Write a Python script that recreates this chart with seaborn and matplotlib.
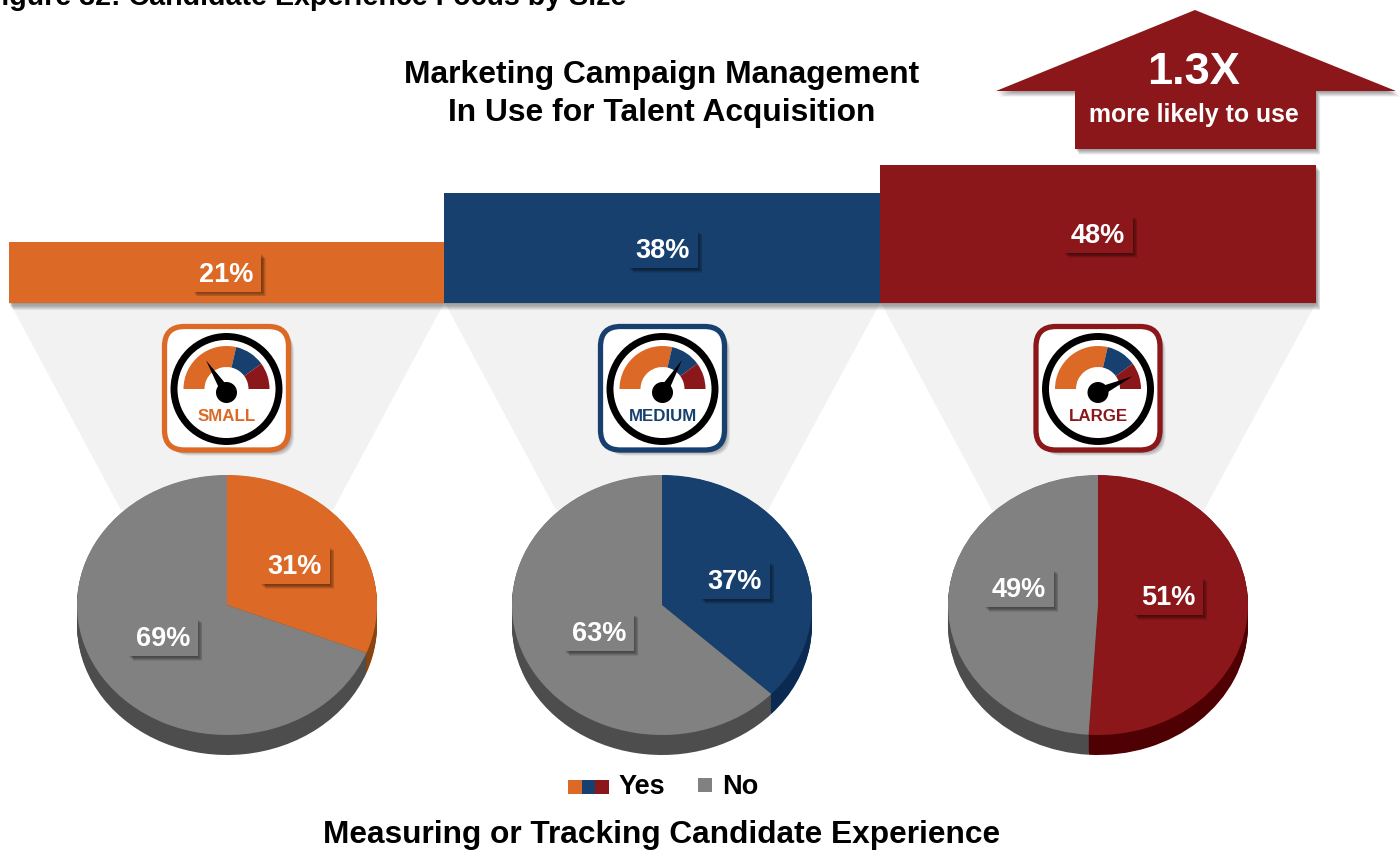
import matplotlib
matplotlib.use("Agg")
import matplotlib.patheffects as pe
import matplotlib.pyplot as plt
import numpy as np
import seaborn as sns
from matplotlib.patches import Circle, FancyBboxPatch, Polygon, Rectangle, Wedge

sizes = ["Small", "Medium", "Large"]
campaign_use = [21, 38, 48]
tracking_yes = [31, 37, 51]
tracking_no = [69, 63, 49]
badge_labels = ["SMALL", "MEDIUM", "LARGE"]
needle_angles = [122.5, 59, 25]

ORANGE = "#DC6A26"
NAVY = "#17406F"
RED = "#8B171A"
GRAY = "#818181"
colors = [ORANGE, NAVY, RED]
wall_colors = ["#8A4410", "#0B2A52", "#4E0002"]
WALL_GRAY = "#4D4D4D"
FONT = "Liberation Sans"

W, H = 1400, 850
BASE_Y = 303
PX_PER_PCT = 2.885
BAR_LEFT, BAR_RIGHT = 8.6, 1316
PIE_X = [227, 662, 1098]
GAUGE_X = [226.5, 662.5, 1098]
PIE_Y, PIE_RX, PIE_RY, PIE_DEPTH = 605, 150, 130, 20

sns.set_theme(style="white")
plt.rcParams["font.family"] = [FONT, "DejaVu Sans"]
plt.rcParams["font.weight"] = "bold"

fig = plt.figure(figsize=(W / 100, H / 100), dpi=100, facecolor="white")


def px_axes(left, top, right, bottom, zorder):
    return fig.add_axes([left / W, 1 - bottom / H, (right - left) / W, (bottom - top) / H], zorder=zorder)


def soft_shadow(dx=3, dy=-3, layers=6, strength=0.07):
    # stacked offsets to fake the blurred drop shadow
    effects = []
    for f in np.linspace(1, 0.2, layers):
        effects.append(pe.SimplePatchShadow(offset=(dx * f, dy * f), shadow_rgbFace="black", alpha=strength))
    return effects + [pe.Normal()]


def box_label(ax, x, y, s, color):
    box = Rectangle((x - 34.5, y - 19), 69, 38, fc=color, ec="none", zorder=9)
    box.set_path_effects(soft_shadow(3.5, -3.5, strength=0.09))
    ax.add_patch(box)
    ax.text(x, y + 2, s, ha="center", va="center", color="white", fontsize=19.5, fontweight="bold", zorder=10)


# background: funnels between bars and pies
bg = px_axes(0, 0, W, H, 0)
bg.set_xlim(0, W)
bg.set_ylim(H, 0)
bg.axis("off")
edges = [9, 444, 880, 1316]
for i, cx in enumerate(PIE_X):
    bg.add_patch(Polygon([(edges[i] + 1, BASE_Y), (edges[i + 1], BASE_Y), (cx + 106, 510), (cx - 106, 510)],
                         closed=True, fc="#F2F2F2", ec="none"))

# top bars
bar_ax = px_axes(BAR_LEFT, 0, BAR_RIGHT, BASE_Y, 1)
sns.barplot(x=sizes, y=campaign_use, hue=sizes, palette=colors, width=1, legend=False, saturation=1,
            linewidth=0, ax=bar_ax)
bar_ax.set_xlim(-0.5, 2.5)
bar_ax.set_ylim(0, BASE_Y / PX_PER_PCT)
bar_ax.axis("off")
for patch in bar_ax.patches:
    patch.set_clip_on(False)
    patch.set_path_effects(soft_shadow(3, -5, layers=6, strength=0.07))
bar_ax.patch.set_alpha(0)

# pies: a stack of darker pies gives the side wall
for i, cx in enumerate(PIE_X):
    ax = px_axes(cx - 165, 460, cx + 165, 770, 2)
    for d in np.linspace(PIE_DEPTH, 0.5, 16):
        ax.pie([tracking_yes[i], tracking_no[i]], colors=[wall_colors[i], WALL_GRAY], startangle=90,
               counterclock=False, center=(0, -d / PIE_RY), radius=1, wedgeprops=dict(linewidth=0))
    ax.pie([tracking_yes[i], tracking_no[i]], colors=[colors[i], GRAY], startangle=90,
           counterclock=False, radius=1, wedgeprops=dict(linewidth=0))
    ax.set_aspect("auto")
    ax.set_xlim(-165 / PIE_RX, 165 / PIE_RX)
    ax.set_ylim(-(770 - PIE_Y) / PIE_RY, (PIE_Y - 460) / PIE_RY)
    ax.patch.set_alpha(0)

# foreground
fg = px_axes(0, 0, W, H, 3)
fg.set_xlim(0, W)
fg.set_ylim(H, 0)
fg.axis("off")
fg.patch.set_alpha(0)

fg.text(-16.4, 5, "Figure 32: Candidate Experience Focus by Size", fontsize=20.65, fontweight="bold", color="black",
        ha="left", va="baseline")
fg.text(662, 75, "Marketing Campaign Management", fontsize=22.9, fontweight="bold", color="black", ha="center", va="center")
fg.text(662, 113, "In Use for Talent Acquisition", fontsize=22.9, fontweight="bold", color="black", ha="center", va="center")

arrow = Polygon([(1195, 10), (1396, 91), (1316, 91), (1316, 149), (1075, 149), (1075, 91), (996, 91)],
                closed=True, fc=RED, ec="none")
arrow.set_path_effects(soft_shadow(3, -4))
fg.add_patch(arrow)
fg.text(1194, 72, "1.3X", color="white", fontsize=32.5, fontweight="bold", ha="center", va="center")
fg.text(1194, 115, "more likely to use", color="white", fontsize=17.9, fontweight="bold", ha="center", va="center")

bar_label_pos = [(226.5, 272.5), (663, 249), (1098, 234)]
for (x, y), v, c in zip(bar_label_pos, campaign_use, colors):
    box_label(fg, x, y, f"{v}%", c)

yes_label_pos = [(295, 565), (735, 580), (1168, 596)]
no_label_pos = [(163, 637), (599, 632), (1019, 588)]
for i in range(3):
    box_label(fg, *yes_label_pos[i], f"{tracking_yes[i]}%", colors[i])
    box_label(fg, *no_label_pos[i], f"{tracking_no[i]}%", GRAY)

# gauge badges
for i, gx in enumerate(GAUGE_X):
    c = colors[i]
    badge = FancyBboxPatch((gx - 62, 326.5), 124, 123.5, boxstyle="round,pad=0,rounding_size=20",
                           fc="white", ec=c, lw=3.8, zorder=2)
    badge.set_path_effects(soft_shadow(4, -4, strength=0.08))
    fg.add_patch(badge)
    fg.add_patch(Circle((gx, 389), 52.5, fc="none", ec="black", lw=5, zorder=3))
    fg.add_patch(Wedge((gx, 389), 43, -180, -77, width=21, fc=ORANGE, ec="none", zorder=3))
    fg.add_patch(Wedge((gx, 389), 43, -77, -36, width=21, fc=NAVY, ec="none", zorder=3))
    fg.add_patch(Wedge((gx, 389), 43, -36, 0, width=21, fc=RED, ec="none", zorder=3))
    a = np.radians(needle_angles[i])
    hub = np.array([gx, 392.5])
    tip = hub + 38 * np.array([np.cos(a), -np.sin(a)])
    norm = np.array([np.sin(a), np.cos(a)]) * 5
    fg.add_patch(Polygon([tip, hub + norm, hub - norm], closed=True, fc="black", ec="none", zorder=4))
    fg.add_patch(Circle(hub, 10.5, fc="black", ec="none", zorder=4))
    fg.text(gx, 416, badge_labels[i], color=c, fontsize=12.2, fontweight="bold", ha="center", va="center", zorder=4)

# legend
for j, c in enumerate(colors):
    fg.add_patch(Rectangle((568 + j * 13.7, 780), 13.7, 14, fc=c, ec="none"))
fg.add_patch(Rectangle((698, 778), 14, 14, fc=GRAY, ec="none"))
fg.text(619, 787, "Yes", fontsize=19.5, fontweight="bold", color="black", ha="left", va="center")
fg.text(722, 787, "No", fontsize=19.5, fontweight="bold", color="black", ha="left", va="center")

fg.text(662, 835, "Measuring or Tracking Candidate Experience", fontsize=22.8, fontweight="bold",
        color="black", ha="center", va="center")

fig.savefig("out.png", dpi=100)
